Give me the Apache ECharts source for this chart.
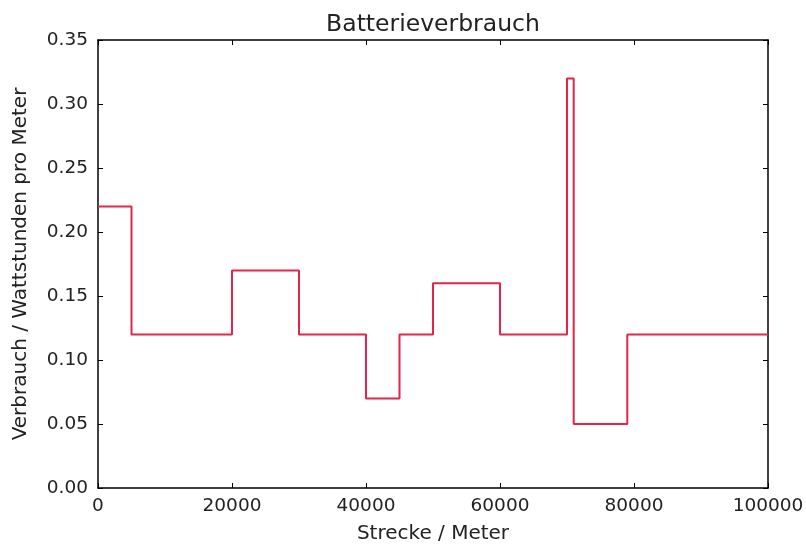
<!DOCTYPE html>
<html>
<head>
<meta charset="utf-8">
<script src="https://cdn.jsdelivr.net/npm/echarts@6/dist/echarts.min.js"></script>
<style>html,body{margin:0;padding:0;background:#fff}#c{width:806px;height:544px}</style>
</head>
<body>
<div id="c"></div>
<script>
const distances = [0, 5000, 20000, 30000, 40000, 45000, 50000, 60000, 70000, 71000, 79000, 100000];
const consumption = [0.22, 0.12, 0.17, 0.12, 0.07, 0.12, 0.16, 0.12, 0.32, 0.05, 0.12, 0.12];
const titleText = 'Batterieverbrauch';
const xName = 'Strecke / Meter';
const yName = 'Verbrauch / Wattstunden pro Meter';

const font = 'DejaVu Sans';
const textColor = '#222';
const chart = echarts.init(document.getElementById('c'), null, {renderer: 'canvas'});
const axisCommon = () => ({
  axisLine: {show: true, onZero: false, lineStyle: {color: '#000', width: 1.5}},
  axisTick: {show: true, inside: true, length: 5, lineStyle: {color: '#000', width: 1}},
  splitLine: {show: false}
});
chart.setOption({
  animation: false,
  title: {text: titleText, left: 428, textAlign: 'center', top: 8,
    textStyle: {fontFamily: font, fontSize: 23.5, fontWeight: 'normal', color: textColor}},
  grid: {left: 98, right: 38, top: 40, bottom: 56, show: false, containLabel: false, outerBoundsMode: 'none'},
  xAxis: [
    Object.assign({type: 'value', min: 0, max: 100000, interval: 20000, position: 'bottom',
      name: xName, nameLocation: 'middle', nameGap: 36,
      nameTextStyle: {fontFamily: font, fontSize: 20, color: textColor},
      axisLabel: {fontFamily: font, fontSize: 18.5, color: textColor, margin: 9,
        formatter: v => String(v)}}, axisCommon()),
    Object.assign({type: 'value', min: 0, max: 100000, interval: 20000, position: 'top',
      axisLabel: {show: false}}, axisCommon())
  ],
  yAxis: [
    Object.assign({type: 'value', min: 0, max: 0.35, interval: 0.05, position: 'left',
      name: yName, nameLocation: 'middle', nameGap: 67,
      nameTextStyle: {fontFamily: font, fontSize: 20, color: textColor},
      axisLabel: {fontFamily: font, fontSize: 18.5, color: textColor, margin: 10,
        formatter: v => v.toFixed(2)}}, axisCommon()),
    Object.assign({type: 'value', min: 0, max: 0.35, interval: 0.05, position: 'right',
      axisLabel: {show: false}}, axisCommon())
  ],
  series: [{
    type: 'line',
    step: 'end',
    data: distances.map((d, i) => [d, consumption[i]]),
    showSymbol: false,
    lineStyle: {color: '#e3254d', width: 2},
    xAxisIndex: 0, yAxisIndex: 0
  }]
});
</script>
</body>
</html>
